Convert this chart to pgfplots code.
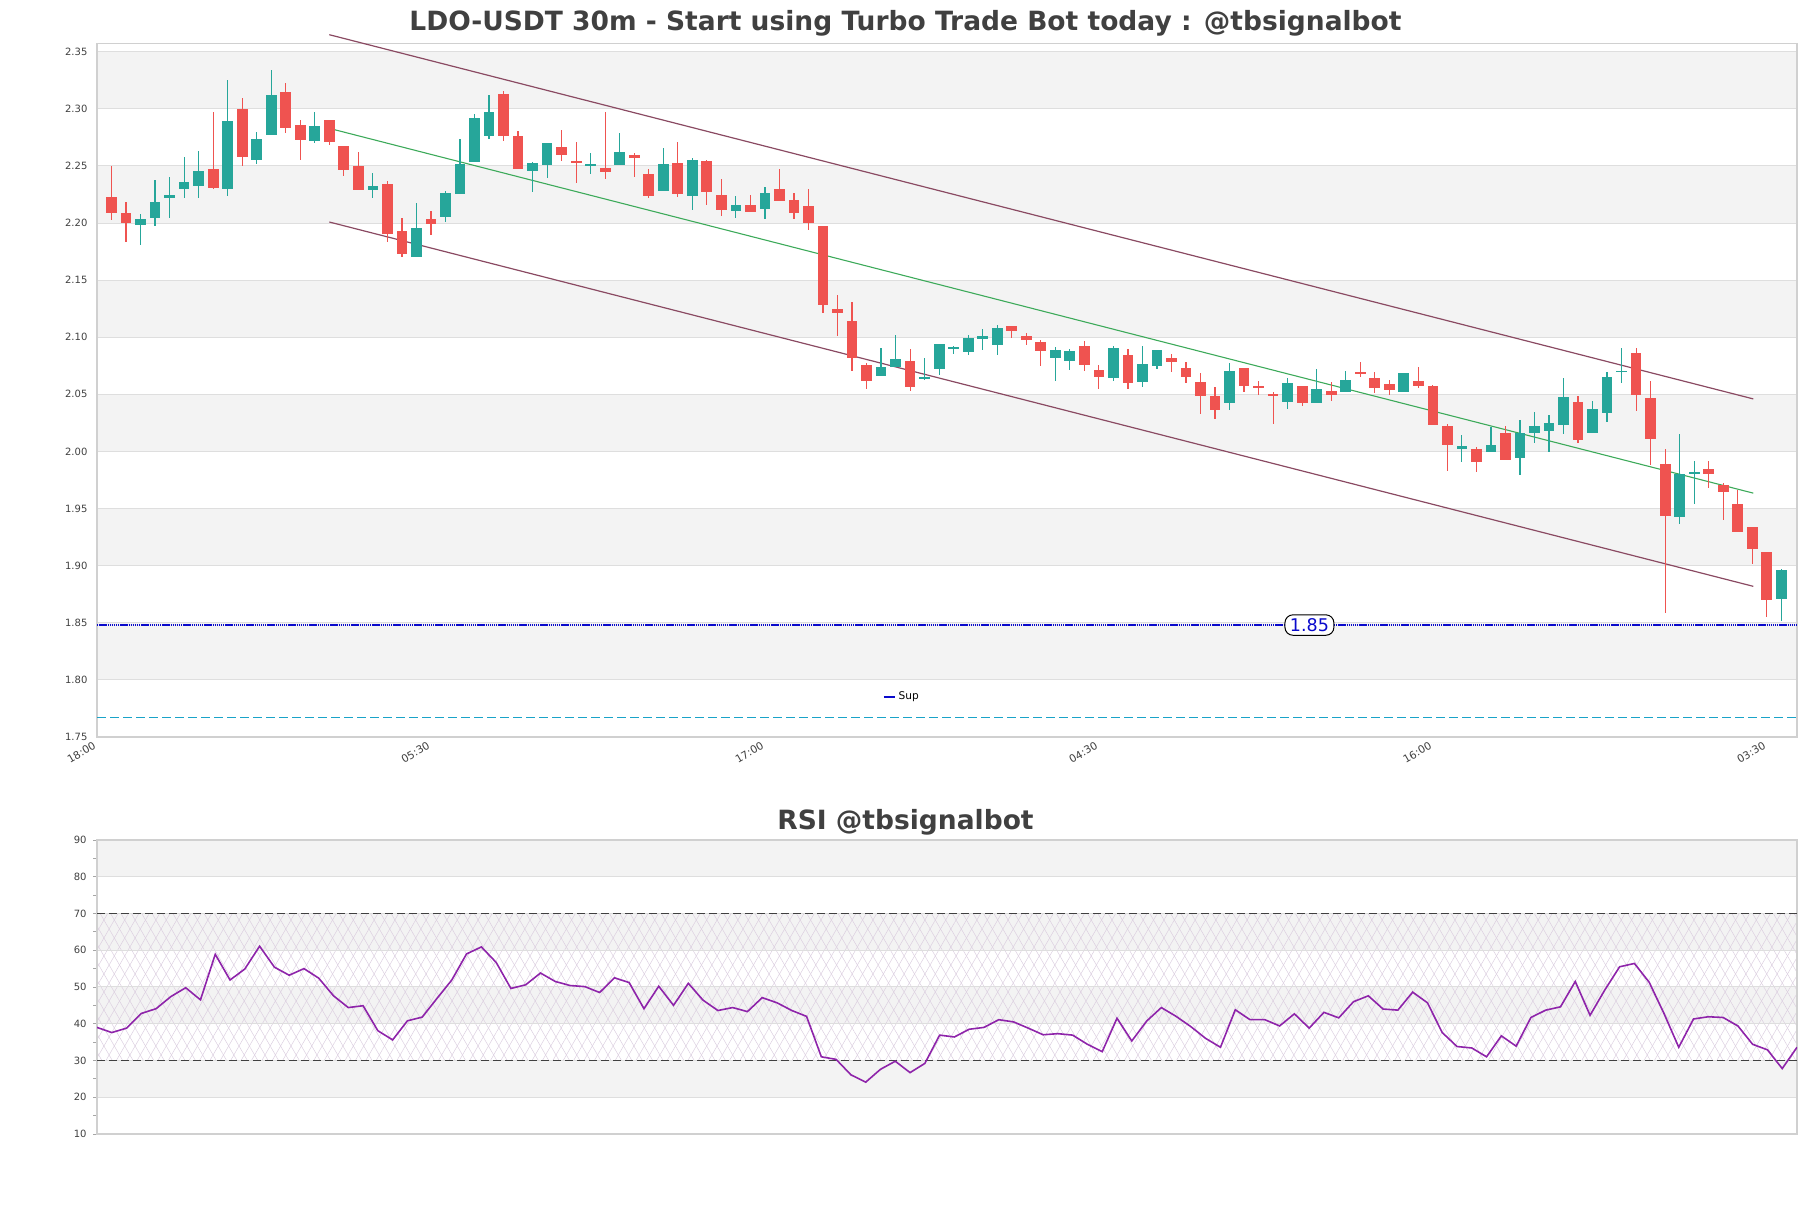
\documentclass[border=0pt]{standalone}
\usepackage{fontspec}
\setmainfont{DejaVu Sans}
\usepackage{pgfplots}
\usepackage{pgfplotstable}
\pgfplotsset{compat=1.18}
\usetikzlibrary{patterns.meta}

\definecolor{cup}{HTML}{26A69A}
\definecolor{cdown}{HTML}{EF5350}
\definecolor{band}{HTML}{F3F3F3}
\definecolor{gridc}{HTML}{DEDEDE}
\definecolor{framec}{HTML}{D0D0D0}
\definecolor{chan}{HTML}{8A4A62}
\definecolor{midc}{HTML}{3DAA5A}
\definecolor{supc}{HTML}{0A0ACC}
\definecolor{cyanl}{HTML}{1AA3C8}
\definecolor{rsic}{HTML}{8E24AA}
\definecolor{titlec}{HTML}{404040}
\definecolor{tickc}{HTML}{404040}
\definecolor{hatchc}{HTML}{DCCFE0}

\pgfplotstableread{
x o h l c
3 2.1982 2.2076 2.1807 2.2038
4 2.2044 2.2374 2.1974 2.2181
5 2.2219 2.2401 2.2041 2.2243
6 2.2298 2.2576 2.2219 2.2357
7 2.2325 2.2629 2.2219 2.2453
9 2.2298 2.3251 2.2237 2.2892
11 2.2553 2.2795 2.2518 2.2734
12 2.2772 2.3339 2.2772 2.3120
15 2.2719 2.2971 2.2702 2.2848
19 2.2289 2.2436 2.2219 2.2325
22 2.1702 2.2175 2.1702 2.1953
24 2.2050 2.2281 2.2006 2.2260
25 2.2254 2.2734 2.2254 2.2518
26 2.2532 2.2953 2.2532 2.2918
27 2.2760 2.3120 2.2734 2.2968
30 2.2453 2.2538 2.2269 2.2529
31 2.2506 2.2705 2.2392 2.2705
34 2.2500 2.2617 2.2427 2.2520
36 2.2506 2.2784 2.2506 2.2626
39 2.2278 2.2661 2.2278 2.2520
41 2.2234 2.2567 2.2111 2.2556
44 2.2102 2.2240 2.2041 2.2161
46 2.2120 2.2319 2.2032 2.2266
54 2.0658 2.0909 2.0658 2.0743
55 2.0737 2.1023 2.0737 2.0813
57 2.0637 2.0822 2.0626 2.0652
58 2.0719 2.0944 2.0667 2.0944
59 2.0895 2.0927 2.0854 2.0912
60 2.0868 2.1023 2.0842 2.0997
61 2.0982 2.1076 2.0886 2.1015
62 2.0930 2.1111 2.0842 2.1085
66 2.0816 2.0918 2.0614 2.0892
67 2.0789 2.0901 2.0711 2.0883
70 2.0640 2.0927 2.0614 2.0909
72 2.0605 2.0927 2.0561 2.0769
73 2.0746 2.0892 2.0719 2.0892
78 2.0421 2.0778 2.0360 2.0708
82 2.0430 2.0643 2.0368 2.0602
84 2.0421 2.0725 2.0421 2.0550
86 2.0518 2.0708 2.0518 2.0629
90 2.0518 2.0690 2.0518 2.0690
94 2.0018 2.0146 1.9912 2.0044
96 1.9991 2.0211 1.9991 2.0058
98 1.9939 2.0272 1.9798 2.0158
99 2.0158 2.0342 2.0070 2.0219
100 2.0175 2.0316 1.9991 2.0246
101 2.0228 2.0646 2.0149 2.0480
103 2.0164 2.0442 2.0164 2.0368
104 2.0339 2.0693 2.0260 2.0649
105 2.0696 2.0906 2.0596 2.0705
109 1.9427 2.0152 1.9368 1.9804
110 1.9804 1.9915 1.9544 1.9819
116 1.8708 1.8968 1.8515 1.8959
}\upT

\pgfplotstableread{
x o h l c
1 2.2225 2.2497 2.2023 2.2088
2 2.2085 2.2181 2.1833 2.2000
8 2.2471 2.2971 2.2298 2.2307
10 2.2997 2.3094 2.2500 2.2579
13 2.3146 2.3225 2.2789 2.2833
14 2.2857 2.2906 2.2553 2.2728
16 2.2900 2.2900 2.2684 2.2710
17 2.2673 2.2673 2.2412 2.2465
18 2.2497 2.2620 2.2289 2.2289
20 2.2339 2.2365 2.1836 2.1903
21 2.1927 2.2041 2.1702 2.1728
23 2.2032 2.2102 2.1895 2.1991
28 2.3129 2.3158 2.2719 2.2760
29 2.2766 2.2807 2.2471 2.2471
32 2.2670 2.2819 2.2541 2.2594
33 2.2547 2.2713 2.2348 2.2526
35 2.2485 2.2968 2.2383 2.2444
37 2.2599 2.2617 2.2401 2.2567
38 2.2433 2.2471 2.2222 2.2240
40 2.2529 2.2713 2.2225 2.2251
42 2.2547 2.2556 2.2155 2.2269
43 2.2249 2.2389 2.2058 2.2111
45 2.2161 2.2249 2.2094 2.2094
47 2.2301 2.2477 2.2190 2.2190
48 2.2205 2.2266 2.2032 2.2085
49 2.2152 2.2301 2.1936 2.1997
50 2.1977 2.1977 2.1211 2.1281
51 2.1243 2.1368 2.1015 2.1211
52 2.1146 2.1313 2.0702 2.0816
53 2.0760 2.0778 2.0544 2.0614
56 2.0795 2.0901 2.0526 2.0561
63 2.1102 2.1102 2.0991 2.1053
64 2.1015 2.1038 2.0930 2.0974
65 2.0962 2.0980 2.0746 2.0877
68 2.0927 2.0971 2.0702 2.0754
69 2.0716 2.0760 2.0544 2.0649
71 2.0848 2.0901 2.0544 2.0596
74 2.0822 2.0857 2.0693 2.0781
75 2.0734 2.0787 2.0596 2.0649
76 2.0605 2.0690 2.0325 2.0482
77 2.0482 2.0561 2.0281 2.0360
79 2.0731 2.0731 2.0518 2.0570
80 2.0576 2.0620 2.0491 2.0561
81 2.0503 2.0518 2.0237 2.0488
83 2.0576 2.0576 2.0395 2.0421
85 2.0532 2.0611 2.0439 2.0491
87 2.0699 2.0787 2.0652 2.0678
88 2.0643 2.0699 2.0509 2.0553
89 2.0594 2.0629 2.0491 2.0535
91 2.0620 2.0743 2.0553 2.0570
92 2.0576 2.0585 2.0228 2.0228
93 2.0219 2.0237 1.9833 2.0053
95 2.0018 2.0035 1.9816 1.9904
97 2.0158 2.0219 1.9921 1.9921
102 2.0433 2.0482 2.0076 2.0102
106 2.0860 2.0904 2.0351 2.0497
107 2.0465 2.0614 1.9883 2.0105
108 1.9889 2.0020 1.8585 1.9436
111 1.9845 1.9915 1.9684 1.9804
112 1.9708 1.9725 1.9401 1.9646
113 1.9541 1.9667 1.9295 1.9295
114 1.9339 1.9339 1.9015 1.9146
115 1.9120 1.9120 1.8550 1.8699
}\downT

\pgfplotstableread{
x y
0 39.0
1 37.6
2 38.8
3 42.8
4 44.1
5 47.4
6 49.8
7 46.5
8 58.9
9 51.9
10 54.9
11 61.1
12 55.4
13 53.2
14 55.0
15 52.4
16 47.6
17 44.4
18 44.9
19 38.1
20 35.6
21 40.8
22 41.8
23 46.9
24 51.9
25 59.0
26 60.9
27 56.7
28 49.6
29 50.6
30 53.8
31 51.5
32 50.4
33 50.1
34 48.5
35 52.5
36 51.2
37 44.1
38 50.2
39 45.0
40 51.0
41 46.4
42 43.6
43 44.4
44 43.3
45 47.1
46 45.7
47 43.6
48 42.0
49 31.0
50 30.3
51 26.1
52 24.1
53 27.6
54 29.8
55 26.7
56 29.2
57 36.9
58 36.4
59 38.5
60 39.0
61 41.1
62 40.5
63 38.8
64 37.0
65 37.3
66 36.9
67 34.4
68 32.4
69 41.5
70 35.3
71 40.7
72 44.4
73 42.0
74 39.2
75 36.0
76 33.6
77 43.8
78 41.1
79 41.1
80 39.4
81 42.7
82 38.8
83 43.1
84 41.6
85 46.0
86 47.6
87 44.0
88 43.7
89 48.6
90 45.7
91 37.6
92 33.8
93 33.4
94 31.0
95 36.7
96 33.9
97 41.7
98 43.7
99 44.6
100 51.5
101 42.3
102 49.2
103 55.5
104 56.4
105 51.3
106 42.8
107 33.6
108 41.3
109 41.9
110 41.7
111 39.4
112 34.4
113 32.9
114 27.8
115 33.6
}\rsiT

\pgfplotsset{
  tinyfont/.style={font=\fontsize{5}{6}\selectfont},
}

\begin{document}
\begin{tikzpicture}
\path (0pt,0pt) rectangle (905.5pt,604pt);

% ---------------- main price axis ----------------
\begin{axis}[
  set layers,
  at={(48.5pt,235.5pt)}, anchor=south west,
  scale only axis, width=850pt, height=346.85pt,
  xmin=0, xmax=117.08, ymin=1.75, ymax=2.3574,
  clip=false,
  axis line style={draw=framec, line width=0.6pt},
  ytick={1.75,1.80,1.85,1.90,1.95,2.00,2.05,2.10,2.15,2.20,2.25,2.30,2.35},
  yticklabel style={tinyfont, text=tickc, inner sep=0pt, xshift=-4.6pt,
    /pgf/number format/.cd, fixed, fixed zerofill, precision=2, assume math mode=true},
  xtick={0,23,46,69,92,115},
  xticklabels={18:00,05:30,17:00,04:30,16:00,03:30},
  xticklabel style={font=\fontsize{5.3}{6}\selectfont, text=tickc, rotate=30, anchor=north east, inner sep=0pt, xshift=-2.8pt, yshift=-0.6pt},
  major tick length=0pt,
  ymajorgrids, grid style={draw=gridc, line width=0.5pt},
  legend image code/.code={\draw[#1] (0pt,0pt) -- (5.5pt,0pt);},
  legend style={at={(0.4735,0.0577)}, anchor=center, draw=none, fill=none,
    font=\fontsize{5.3}{6}\selectfont, inner sep=1pt, nodes={inner sep=1.2pt}},
]
\begin{pgfonlayer}{axis background}
  \fill[band] (axis cs:0,2.30) rectangle (axis cs:117.08,2.35);
  \fill[band] (axis cs:0,2.20) rectangle (axis cs:117.08,2.25);
  \fill[band] (axis cs:0,2.10) rectangle (axis cs:117.08,2.15);
  \fill[band] (axis cs:0,2.00) rectangle (axis cs:117.08,2.05);
  \fill[band] (axis cs:0,1.90) rectangle (axis cs:117.08,1.95);
  \fill[band] (axis cs:0,1.80) rectangle (axis cs:117.08,1.85);
\end{pgfonlayer}

% channel
\addplot[chan, line width=0.6pt, forget plot] coordinates {(16,2.3649) (114.07,2.0460)};
\addplot[chan, line width=0.6pt, forget plot] coordinates {(16,2.2009) (114.07,1.8819)};
\addplot[midc, line width=0.55pt, forget plot] coordinates {(16,2.2829) (114.07,1.9635)};

% support lines
\addplot[cyanl, line width=0.6pt, dash pattern=on 4.5pt off 2pt, forget plot] coordinates {(0,1.767) (117.08,1.767)};
\addplot[supc, line width=1pt, dash pattern=on 0.7pt off 0.35pt, forget plot] coordinates {(0,1.848) (117.08,1.848)};

% wicks
\addplot[draw=none, mark=none, forget plot,
  error bars/.cd, y dir=both, y explicit, error mark=none,
  error bar style={draw=cup, line width=0.6pt}]
  table[x=x, y expr={(\thisrow{h}+\thisrow{l})/2},
        y error plus expr={(\thisrow{h}-\thisrow{l})/2},
        y error minus expr={(\thisrow{h}-\thisrow{l})/2}] {\upT};
\addplot[draw=none, mark=none, forget plot,
  error bars/.cd, y dir=both, y explicit, error mark=none,
  error bar style={draw=cdown, line width=0.6pt}]
  table[x=x, y expr={(\thisrow{h}+\thisrow{l})/2},
        y error plus expr={(\thisrow{h}-\thisrow{l})/2},
        y error minus expr={(\thisrow{h}-\thisrow{l})/2}] {\downT};
% bodies
\addplot[draw=none, mark=none, forget plot,
  error bars/.cd, y dir=both, y explicit, error mark=none,
  error bar style={draw=cup, line width=5.35pt}]
  table[x=x, y expr={(\thisrow{o}+\thisrow{c})/2},
        y error plus expr={max(abs(\thisrow{c}-\thisrow{o})/2,0.0005)},
        y error minus expr={max(abs(\thisrow{c}-\thisrow{o})/2,0.0005)}] {\upT};
\addplot[draw=none, mark=none, forget plot,
  error bars/.cd, y dir=both, y explicit, error mark=none,
  error bar style={draw=cdown, line width=5.35pt}]
  table[x=x, y expr={(\thisrow{o}+\thisrow{c})/2},
        y error plus expr={max(abs(\thisrow{c}-\thisrow{o})/2,0.0005)},
        y error minus expr={max(abs(\thisrow{c}-\thisrow{o})/2,0.0005)}] {\downT};

\addlegendimage{supc, line width=1.2pt}
\addlegendentry{Sup}

\node[draw=black, fill=white, rounded corners=4pt, line width=0.5pt, text=supc,
      font=\fontsize{8.75}{10}\selectfont, inner xsep=2.5pt, inner ysep=1.8pt]
      at (axis cs:83.5,1.848) {1.85};
\end{axis}

% ---------------- RSI axis ----------------
\begin{axis}[
  set layers,
  at={(48.5pt,37pt)}, anchor=south west,
  scale only axis, width=850pt, height=147pt,
  xmin=0, xmax=115, ymin=10, ymax=90,
  axis line style={draw=framec, line width=0.6pt},
  xtick=\empty,
  ytick={10,20,30,40,50,60,70,80,90},
  minor ytick={15,25,35,45,55,65,75,85},
  ytick pos=left, tick align=outside,
  major tick length=2pt, minor tick length=2pt,
  every tick/.style={draw=gray!70, line width=0.4pt},
  yticklabel style={tinyfont, text=tickc, inner sep=0pt, xshift=-3pt,
    /pgf/number format/assume math mode=true},
  ymajorgrids, grid style={draw=gridc, line width=0.5pt},
]
\begin{pgfonlayer}{axis background}
  \fill[band] (axis cs:0,80) rectangle (axis cs:115,90);
  \fill[band] (axis cs:0,60) rectangle (axis cs:115,70);
  \fill[band] (axis cs:0,40) rectangle (axis cs:115,50);
  \fill[band] (axis cs:0,20) rectangle (axis cs:115,30);
  \fill[pattern={Lines[angle=60,distance=4.5pt,line width=0.25pt]}, pattern color=hatchc]
     (axis cs:0,30) rectangle (axis cs:115,70);
  \fill[pattern={Lines[angle=-60,distance=4.5pt,line width=0.25pt]}, pattern color=hatchc]
     (axis cs:0,30) rectangle (axis cs:115,70);
\end{pgfonlayer}
\addplot[black!75, line width=0.6pt, dash pattern=on 4pt off 2pt, forget plot] coordinates {(0,70) (115,70)};
\addplot[black!75, line width=0.6pt, dash pattern=on 4pt off 2pt, forget plot] coordinates {(0,30) (115,30)};
\addplot[rsic, line width=0.8pt, mark=none, forget plot] table[x=x, y=y] {\rsiT};
\end{axis}

% titles
\node[anchor=base, text=titlec, font=\fontsize{13.25}{15}\selectfont\bfseries]
  at (452.75pt,588.5pt) {LDO-USDT 30m - Start using Turbo Trade Bot today : @tbsignalbot};
\node[anchor=base, text=titlec, font=\fontsize{13.25}{15}\selectfont\bfseries]
  at (452.75pt,189.25pt) {RSI @tbsignalbot};
\end{tikzpicture}
\end{document}
